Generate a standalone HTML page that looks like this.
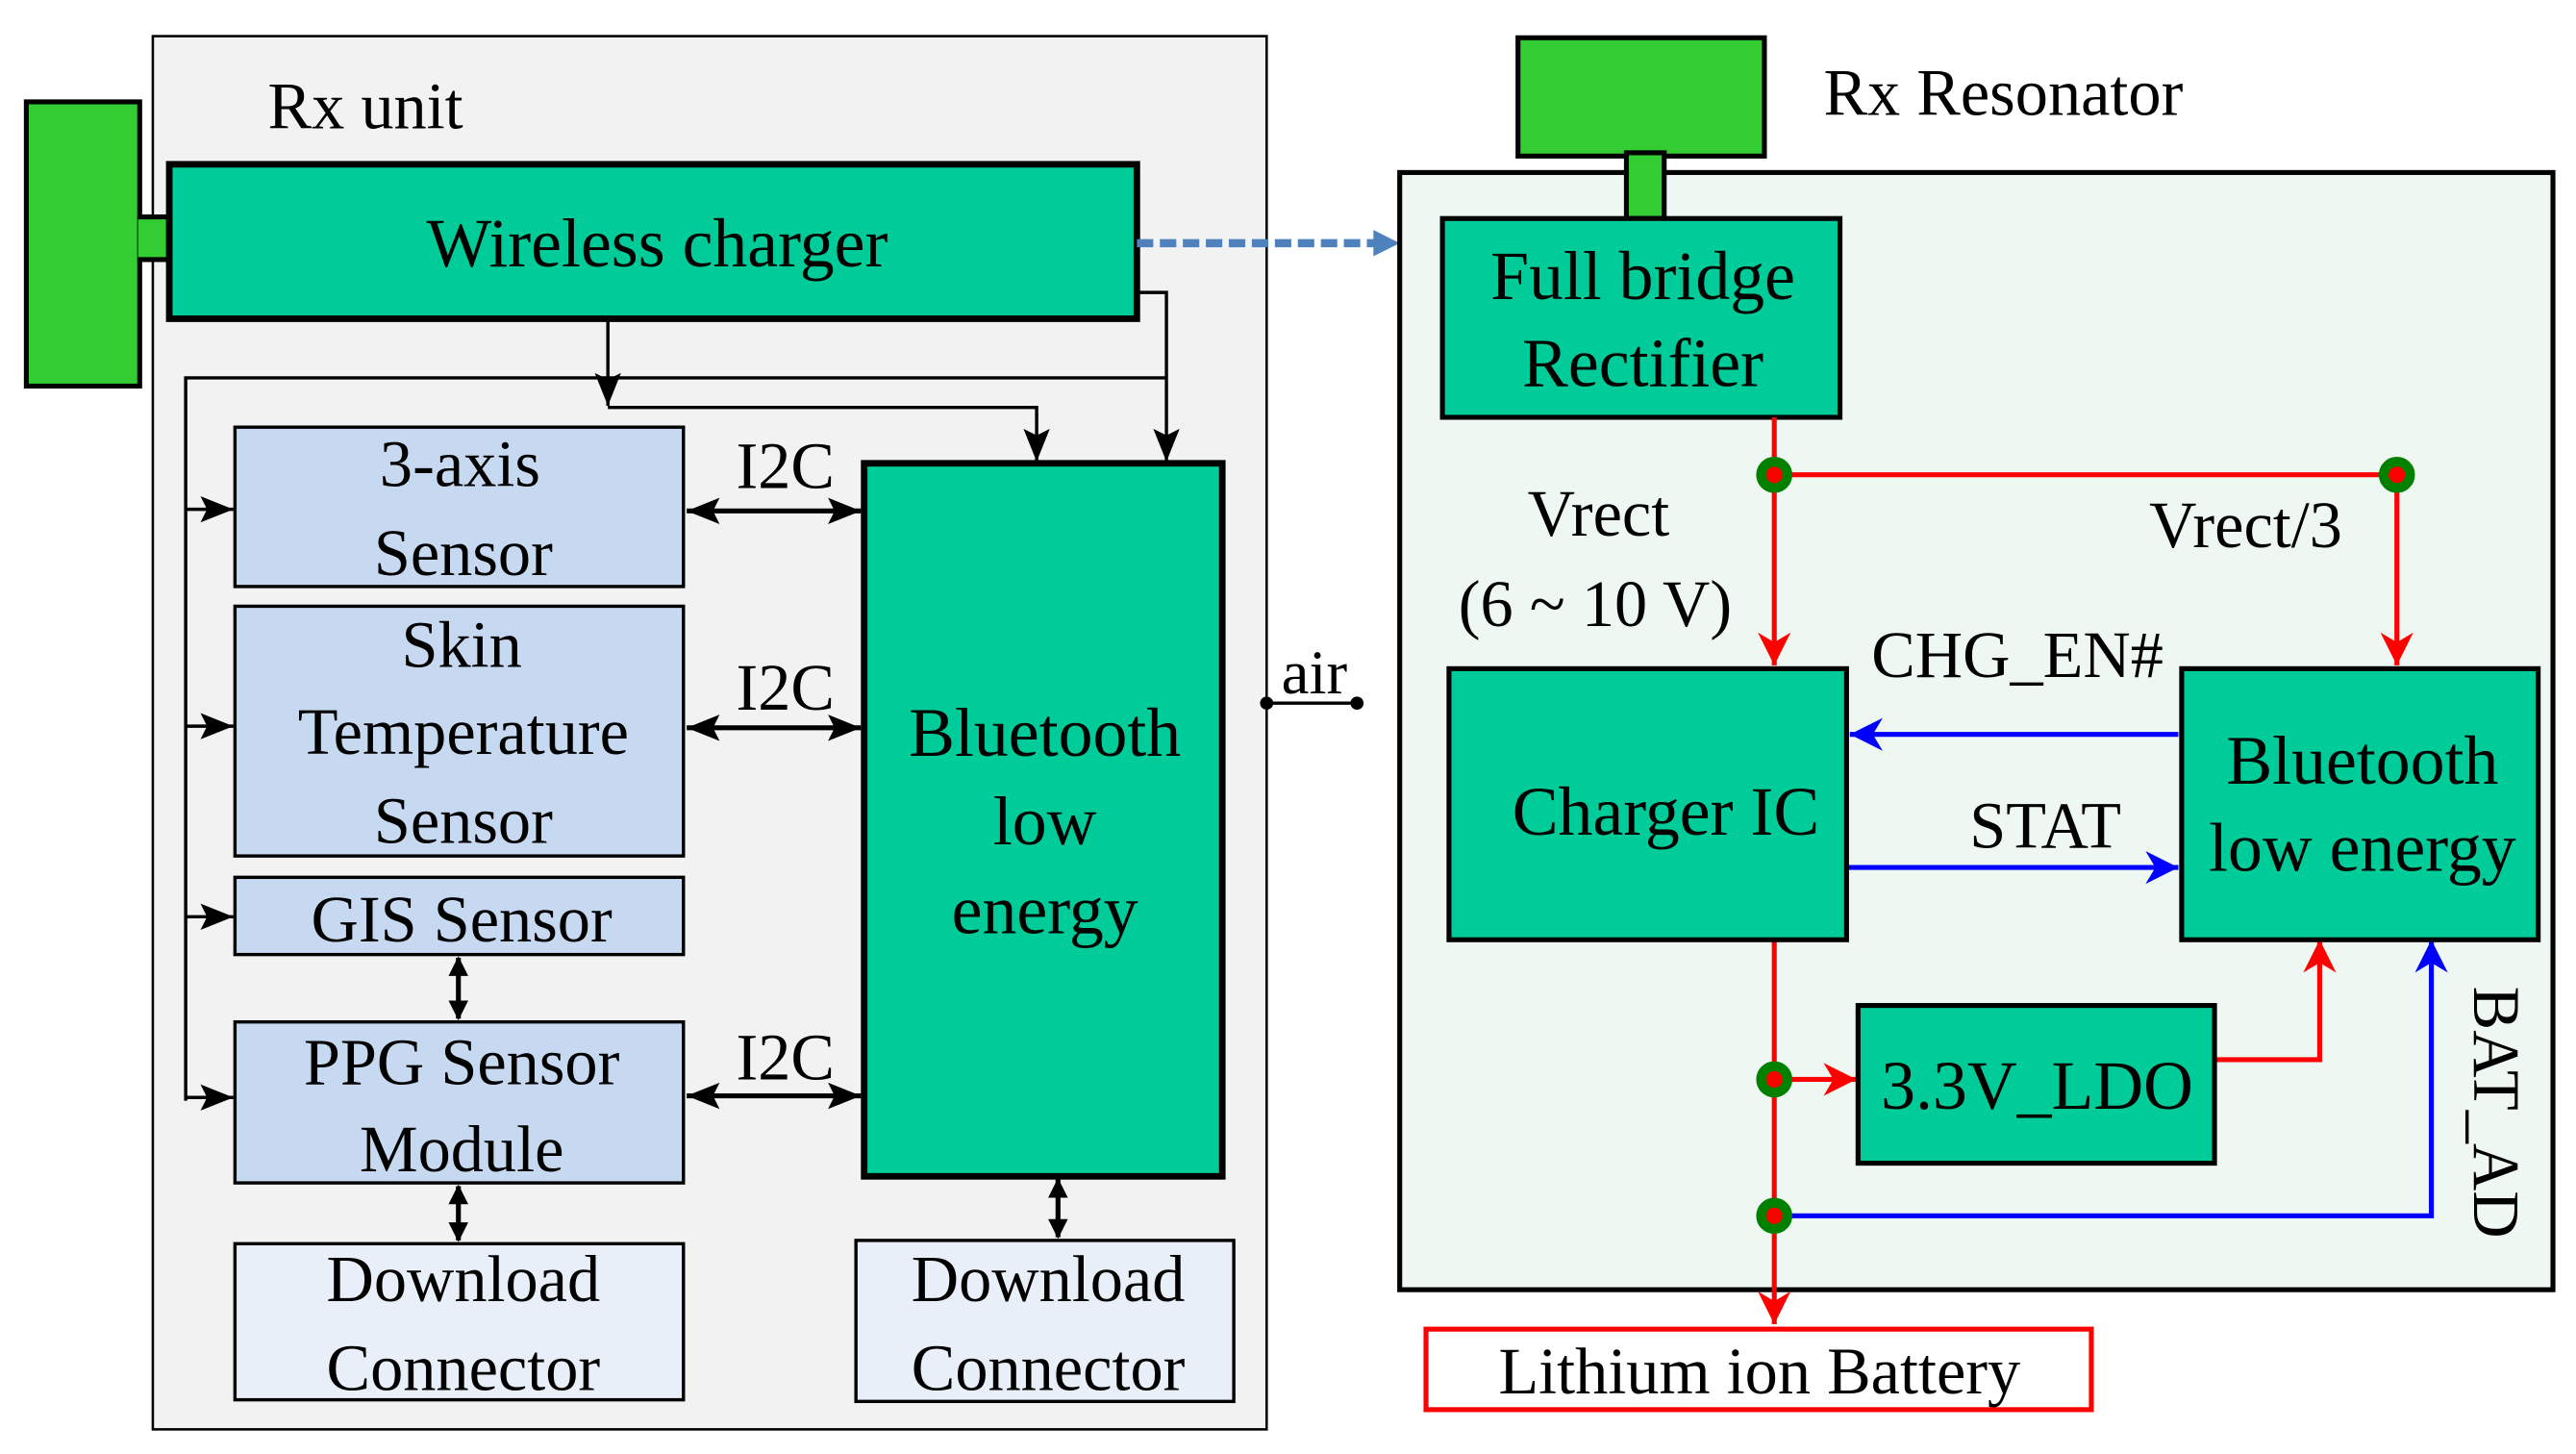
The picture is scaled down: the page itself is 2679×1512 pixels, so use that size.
<!DOCTYPE html>
<html><head><meta charset="utf-8"><style>html,body{margin:0;padding:0;background:#fff}svg{display:block}text{font-family:"Liberation Serif","Times New Roman",serif;fill:#000}</style></head>
<body>
<svg width="2679" height="1512" viewBox="0 0 1568 885" xmlns="http://www.w3.org/2000/svg">
<defs>
<marker id="abk" viewBox="0 0 10 10" refX="10" refY="5" markerWidth="20" markerHeight="20" orient="auto-start-reverse" markerUnits="userSpaceOnUse"><path d="M0,1 L10,5 L0,9 L2,5 z" fill="#000"/></marker>
<marker id="ar" viewBox="0 0 10 10" refX="10" refY="5" markerWidth="20" markerHeight="22" orient="auto" markerUnits="userSpaceOnUse"><path d="M0,0 L10,5 L0,10 L3,5 z" fill="#f00"/></marker>
<marker id="abl" viewBox="0 0 10 10" refX="10" refY="5" markerWidth="20" markerHeight="22" orient="auto" markerUnits="userSpaceOnUse"><path d="M0,0 L10,5 L0,10 L3,5 z" fill="#00f"/></marker>
</defs>
<rect x="93" y="22" width="678" height="848" fill="#f2f2f2" stroke="#000" stroke-width="1.5"/>
<text x="163" y="78" font-size="40">Rx unit</text>
<rect x="16" y="62" width="69" height="173" fill="#33cc33" stroke="#000" stroke-width="3"/>
<rect x="84" y="132" width="20" height="26" fill="#33cc33"/>
<line x1="84" y1="132" x2="104" y2="132" stroke="#000" stroke-width="3"/>
<line x1="84" y1="158" x2="104" y2="158" stroke="#000" stroke-width="3"/>
<rect x="103" y="100" width="589" height="94" fill="#00cc99" stroke="#000" stroke-width="4"/>
<text x="400" y="162" font-size="42" text-anchor="middle">Wireless charger</text>
<line x1="692" y1="148" x2="840" y2="148" stroke="#4f81bd" stroke-width="5" stroke-dasharray="10,4"/>
<path d="M836,140 L852,148 L836,156 z" fill="#4f81bd"/>
<g stroke="#000" stroke-width="2" fill="none">
<path d="M370,194 V247" marker-end="url(#abk)"/>
<path d="M370,248 H631 V281" marker-end="url(#abk)"/>
<path d="M692,178 H710 V281" marker-end="url(#abk)"/>
<path d="M113,670 V230 H710"/>
<path d="M113,310 H142" marker-end="url(#abk)"/>
<path d="M113,442 H142" marker-end="url(#abk)"/>
<path d="M113,558 H142" marker-end="url(#abk)"/>
<path d="M113,668 H142" marker-end="url(#abk)"/>
<path d="M418,311 H524" marker-start="url(#abk)" marker-end="url(#abk)" stroke-width="3"/>
<path d="M418,443 H524" marker-start="url(#abk)" marker-end="url(#abk)" stroke-width="3"/>
<path d="M418,667 H524" marker-start="url(#abk)" marker-end="url(#abk)" stroke-width="3"/>
<path d="M279,583 V620 M279,722 V755 M644,718 V753" stroke-width="3"/>
</g>
<g fill="#000">
<path d="M279,582 L273,594 L285,594 z M279,621 L273,609 L285,609 z"/>
<path d="M279,721 L273,733 L285,733 z M279,756 L273,744 L285,744 z"/>
<path d="M644,717 L638,729 L650,729 z M644,754 L638,742 L650,742 z"/>
</g>
<g stroke="#000" stroke-width="2" fill="#c6d9f1">
<rect x="143" y="260" width="273" height="97"/>
<rect x="143" y="369" width="273" height="152"/>
<rect x="143" y="534" width="273" height="47"/>
<rect x="143" y="622" width="273" height="98"/>
<rect x="143" y="757" width="273" height="95" fill="#e9eff8"/>
<rect x="521" y="755" width="230" height="98" fill="#e9eff8"/>
</g>
<g font-size="40" text-anchor="middle">
<text x="280" y="296">3-axis</text><text x="282" y="350">Sensor</text>
<text x="281" y="406">Skin</text><text x="282" y="459">Temperature</text><text x="282" y="513">Sensor</text>
<text x="281" y="573">GIS Sensor</text>
<text x="281" y="660">PPG Sensor</text><text x="281" y="713">Module</text>
<text x="282" y="792">Download</text><text x="282" y="846">Connector</text>
<text x="638" y="792">Download</text><text x="638" y="846">Connector</text>
<text x="478" y="297">I2C</text><text x="478" y="432">I2C</text><text x="478" y="657">I2C</text>
</g>
<rect x="526" y="282" width="218" height="434" fill="#00cc99" stroke="#000" stroke-width="4"/>
<g font-size="42" text-anchor="middle"><text x="636" y="460">Bluetooth</text><text x="636" y="514">low</text><text x="636" y="568">energy</text></g>
<text x="780" y="422" font-size="38">air</text>
<line x1="771" y1="428" x2="826" y2="428" stroke="#000" stroke-width="2"/>
<circle cx="771" cy="428" r="4"/><circle cx="826" cy="428" r="4"/>
<rect x="852" y="105" width="702" height="680" fill="#eef7f1" stroke="#000" stroke-width="3"/>
<rect x="924" y="23" width="150" height="72" fill="#33cc33" stroke="#000" stroke-width="3"/>
<rect x="990" y="93" width="23" height="40" fill="#33cc33" stroke="#000" stroke-width="3"/>
<text x="1110" y="70" font-size="40">Rx Resonator</text>
<rect x="878" y="133" width="242" height="121" fill="#00cc99" stroke="#000" stroke-width="3"/>
<g font-size="42" text-anchor="middle"><text x="1000" y="182">Full bridge</text><text x="1000" y="235">Rectifier</text></g>
<g stroke="#f00" stroke-width="3" fill="none">
<path d="M1080,254 V405" marker-end="url(#ar)"/>
<path d="M1080,289 H1459 V405" marker-end="url(#ar)"/>
<path d="M1080,572 V806" marker-end="url(#ar)"/>
<path d="M1080,657 H1130" marker-end="url(#ar)"/>
<path d="M1348,645 H1412 V572" marker-end="url(#ar)"/>
</g>
<g stroke="#00f" stroke-width="3" fill="none">
<path d="M1080,740 H1480 V572" marker-end="url(#abl)"/>
<path d="M1326,447 H1126" marker-end="url(#abl)"/>
<path d="M1125,528 H1326" marker-end="url(#abl)"/>
</g>
<g fill="#f00" stroke="#008000" stroke-width="6">
<circle cx="1080" cy="289" r="8"/><circle cx="1459" cy="289" r="8"/><circle cx="1080" cy="657" r="8"/><circle cx="1080" cy="740" r="8"/>
</g>
<rect x="882" y="407" width="242" height="165" fill="#00cc99" stroke="#000" stroke-width="3"/>
<text x="1014" y="508" font-size="42" text-anchor="middle">Charger IC</text>
<rect x="1328" y="407" width="217" height="165" fill="#00cc99" stroke="#000" stroke-width="3"/>
<g font-size="42" text-anchor="middle"><text x="1438" y="477">Bluetooth</text><text x="1438" y="530">low energy</text></g>
<rect x="1131" y="612" width="217" height="96" fill="#00cc99" stroke="#000" stroke-width="3"/>
<text x="1240" y="675" font-size="42" text-anchor="middle">3.3V_LDO</text>
<rect x="868" y="809" width="405" height="49" fill="#fff" stroke="#f00" stroke-width="3"/>
<text x="1071" y="848" font-size="40" text-anchor="middle">Lithium ion Battery</text>
<g font-size="40" text-anchor="middle">
<text x="973" y="326">Vrect</text><text x="971" y="381">(6 ~ 10 V)</text>
<text x="1367" y="333">Vrect/3</text>
<text x="1228" y="412">CHG_EN#</text>
<text x="1245" y="516">STAT</text>
</g>
<text x="1506" y="677" font-size="40" text-anchor="middle" transform="rotate(90 1506 677)">BAT_AD</text>
</svg>
</body></html>
